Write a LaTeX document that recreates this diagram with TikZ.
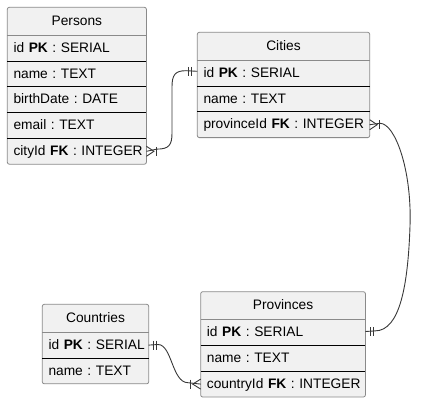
\documentclass[tikz,border=0pt]{standalone}
\usepackage{fontspec}
\setmainfont{Liberation Sans}
\usetikzlibrary{fit,backgrounds}
\definecolor{boxfill}{HTML}{F1F1F1}
\definecolor{boxline}{HTML}{8A8A8A}
\definecolor{wirecol}{HTML}{383838}
\frenchspacing
\begin{document}
\begin{tikzpicture}[x=1pt,y=-1pt,
  every node/.style={font=\fontsize{13.75pt}{16pt}\selectfont, inner sep=0pt},
  hdr/.style={anchor=north west, minimum height=27.5pt, text height=9.9pt, text depth=1.6pt, minimum width=#1},
  fld/.style={anchor=north west, minimum height=25.4pt, inner xsep=3pt, inner ysep=0pt, text height=9.9pt, text depth=1.6pt, text width=#1, align=left,
    execute at begin node={\hyphenpenalty=10000\exhyphenpenalty=10000\hspace*{3pt}}},
  frame/.style={draw=boxline, fill=boxfill, rounded corners=2pt, line width=0.8pt, inner sep=0pt},
  hsep/.style={draw=boxline, line width=0.8pt},
  rsep/.style={draw=black, line width=0.9pt},
  wire/.style={draw=wirecol, line width=0.9pt},
  tick/.style={draw=wirecol, line width=0.9pt}
]
\useasboundingbox (0,0) rectangle (430,401);

% ---------- Persons ----------
\node[hdr=138.7pt] (Ph) at (7.3,7.3) {Persons};
\node[fld=132.7pt] (P1) at (Ph.south west) {id \textbf{PK} : SERIAL};
\node[fld=132.7pt] (P2) at (P1.south west) {name : TEXT};
\node[fld=132.7pt] (P3) at (P2.south west) {birthDate : DATE};
\node[fld=132.7pt] (P4) at (P3.south west) {email : TEXT};
\node[fld=132.7pt] (P5) at (P4.south west) {cityId \textbf{FK} : INTEGER};

% ---------- Cities ----------
\node[hdr=172pt] (Ch) at (197.3,32.3) {Cities};
\node[fld=166pt] (C1) at (Ch.south west) {id \textbf{PK} : SERIAL};
\node[fld=166pt] (C2) at (C1.south west) {name : TEXT};
\node[fld=166pt] (C3) at (C2.south west) {provinceId \textbf{FK} : INTEGER};

% ---------- Provinces ----------
\node[hdr=164.3pt] (Vh) at (200.7,291.7) {Provinces};
\node[fld=158.3pt] (V1) at (Vh.south west) {id \textbf{PK} : SERIAL};
\node[fld=158.3pt] (V2) at (V1.south west) {name : TEXT};
\node[fld=158.3pt] (V3) at (V2.south west) {countryId \textbf{FK} : INTEGER};

% ---------- Countries ----------
\node[hdr=106pt] (Kh) at (42.3,304.3) {Countries};
\node[fld=100pt] (K1) at (Kh.south west) {id \textbf{PK} : SERIAL};
\node[fld=100pt] (K2) at (K1.south west) {name : TEXT};

% frames
\begin{scope}[on background layer]
  \node[frame, fit=(Ph)(P5)] (Persons) {};
  \node[frame, fit=(Ch)(C3)] (Cities) {};
  \node[frame, fit=(Vh)(V3)] (Provinces) {};
  \node[frame, fit=(Kh)(K2)] (Countries) {};
\end{scope}

% separators
\foreach \h in {Ph,Ch,Vh,Kh} {\draw[hsep] (\h.south west) -- (\h.south east);}
\foreach \r in {P1,P2,P3,P4,C1,C2,V1,V2,K1} {\draw[rsep] (\r.south west) -- (\r.south east);}

% ---------- Persons.cityId -> Cities.id ----------
\draw[wire] (P5.east) -- (157,149.1) .. controls (169,149.1) and (172,145) .. (172,133)
  -- (172,87) .. controls (172,75) and (175,70.7) .. (186,70.7) -- ([yshift=1.8pt]C1.west);
\draw[tick] ([yshift=5pt]P5.east) -- ([xshift=7.5pt]P5.east) -- ([yshift=-5pt]P5.east);
\draw[tick] ([xshift=10pt,yshift=4.5pt]P5.east) -- ([xshift=10pt,yshift=-4.5pt]P5.east);
\draw[tick] ([xshift=-5.5pt,yshift=6.3pt]C1.west) -- ([xshift=-5.5pt,yshift=-2.7pt]C1.west);
\draw[tick] ([xshift=-8.8pt,yshift=6.3pt]C1.west) -- ([xshift=-8.8pt,yshift=-2.7pt]C1.west);

% ---------- Cities.provinceId -> Provinces.id ----------
\draw[wire] (C3.east) -- (380,123.3) .. controls (395,123.3) and (412,170) .. (410,226)
  .. controls (408,285) and (400,330.9) .. (375,330.9) -- ([yshift=1pt]V1.east);
\draw[tick] ([yshift=5pt]C3.east) -- ([xshift=7.5pt]C3.east) -- ([yshift=-5pt]C3.east);
\draw[tick] ([xshift=10pt,yshift=4.5pt]C3.east) -- ([xshift=10pt,yshift=-4.5pt]C3.east);
\draw[tick] ([xshift=5pt,yshift=5.5pt]V1.east) -- ([xshift=5pt,yshift=-3.5pt]V1.east);
\draw[tick] ([xshift=7.7pt,yshift=5.5pt]V1.east) -- ([xshift=7.7pt,yshift=-3.5pt]V1.east);

% ---------- Countries.id -> Provinces.countryId ----------
\draw[wire] (K1.east) -- (158,344.5) .. controls (172,344.5) and (172,382.7) .. (188,382.7) -- (V3.west);
\draw[tick] ([xshift=5pt,yshift=4.5pt]K1.east) -- ([xshift=5pt,yshift=-4.5pt]K1.east);
\draw[tick] ([xshift=7.7pt,yshift=4.5pt]K1.east) -- ([xshift=7.7pt,yshift=-4.5pt]K1.east);
\draw[tick] ([yshift=5pt]V3.west) -- ([xshift=-8pt]V3.west) -- ([yshift=-5pt]V3.west);
\draw[tick] ([xshift=-10.5pt,yshift=4.5pt]V3.west) -- ([xshift=-10.5pt,yshift=-4.5pt]V3.west);
\end{tikzpicture}
\end{document}
